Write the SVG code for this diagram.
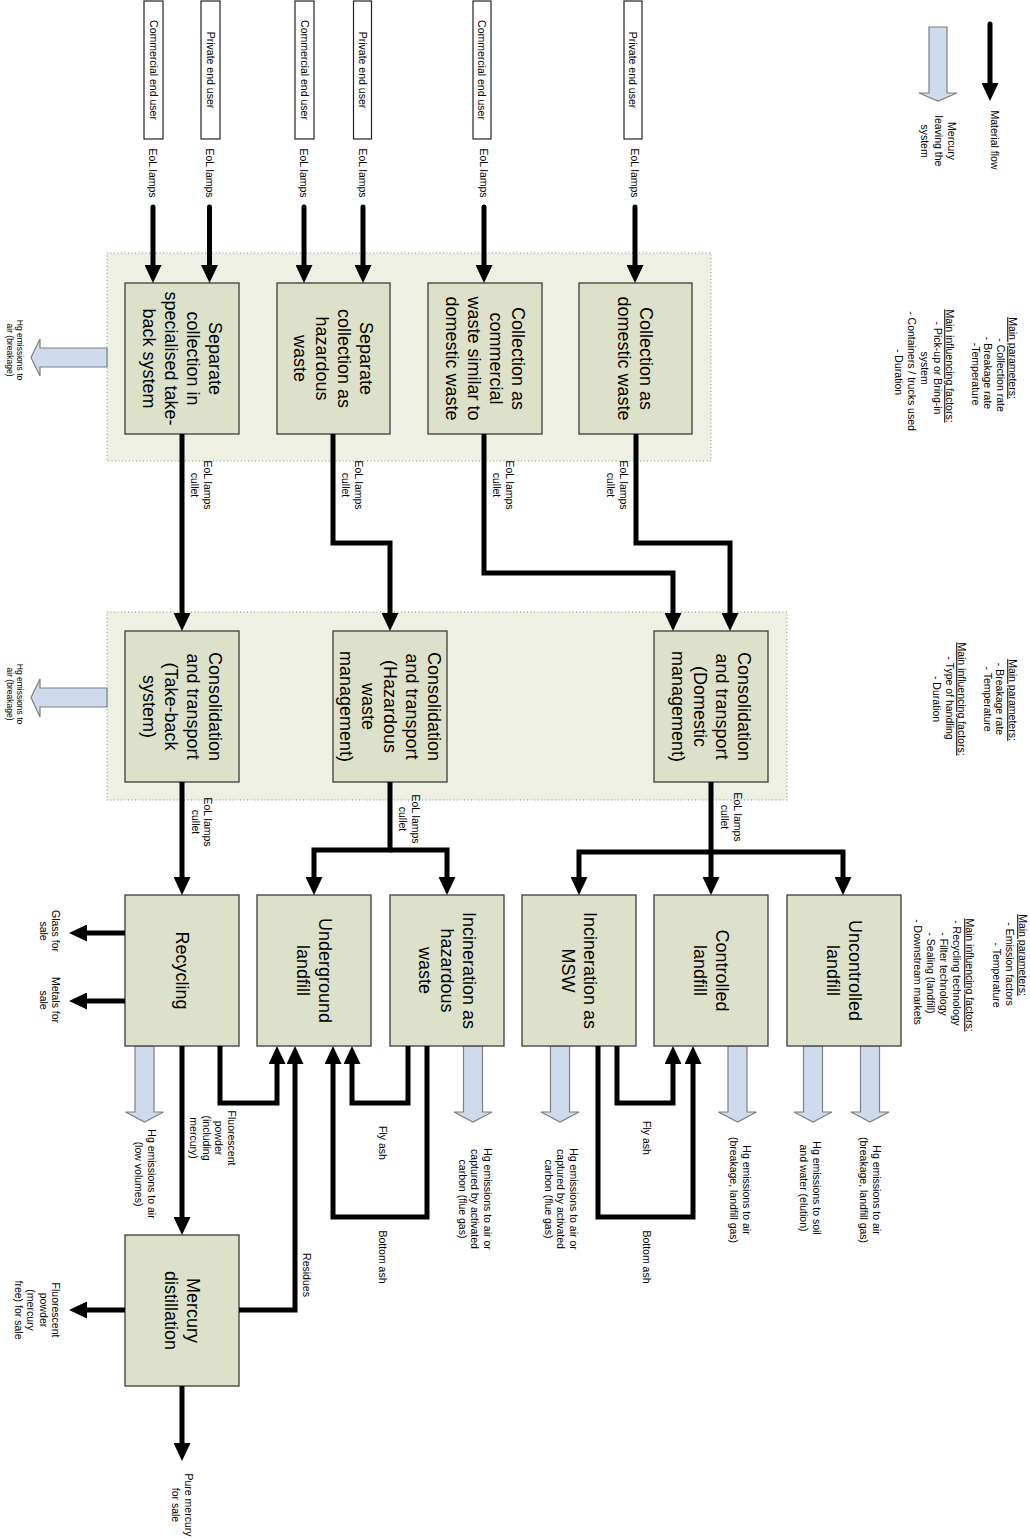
<svg xmlns="http://www.w3.org/2000/svg" width="1030" height="1540" viewBox="0 0 1030 1540">
<style>
.box{fill:#dde1ca;stroke:#3c3c3c;stroke-width:1.3}
.src{fill:#fff;stroke:#222;stroke-width:1.2}
.grp{fill:#eff0e4;stroke:#8a8a8a;stroke-width:1;stroke-dasharray:1 2.5}
.flow{fill:none;stroke:#000;stroke-width:5;marker-end:url(#ah)}
.rc{stroke-linecap:round}
.em{fill:#cfdbed;stroke:#7f7f7f;stroke-width:1.2}
text{font-family:"Liberation Sans",Arial,sans-serif;fill:#000}
.t18{font-size:18px;text-anchor:middle}
.t10{font-size:10.5px;text-anchor:middle}
.t8{font-size:8.5px;text-anchor:middle}
.u{text-decoration:underline}
</style>
<defs>
<marker id="ah" markerUnits="userSpaceOnUse" markerWidth="18" markerHeight="17" refX="0" refY="8.5" orient="auto" viewBox="0 0 18 17"><path d="M0,0 L18,8.5 L0,17 z" fill="#000"/></marker>
</defs>
<rect width="1030" height="1540" fill="#fff"/>

<g id="containers">
<rect class="grp" x="107" y="253" width="604" height="208"/>
<rect class="grp" x="107" y="612" width="680" height="188"/>
</g>

<g id="emissions">
<polygon class="em" points="107,348 40,348 40,339 31,357.5 40,376 40,367 107,367"/>
<polygon class="em" points="107,688 40,688 40,679 31,697.5 40,717 40,707 107,707"/>
<polygon class="em" points="135,1046 154,1046 154,1112 163.5,1112 144.5,1122 125.5,1112 135,1112"/>
<polygon class="em" points="463.5,1046 482.5,1046 482.5,1112 492,1112 473,1122 454,1112 463.5,1112"/>
<polygon class="em" points="550.5,1046 569.5,1046 569.5,1112 579,1112 560,1122 541,1112 550.5,1112"/>
<polygon class="em" points="728,1046 747,1046 747,1112 756.5,1112 737.5,1122 718.5,1112 728,1112"/>
<polygon class="em" points="803.5,1046 822.5,1046 822.5,1112 832,1112 813,1122 794,1112 803.5,1112"/>
<polygon class="em" points="860.5,1046 879.5,1046 879.5,1112 889,1112 870,1122 851,1112 860.5,1112"/>
<text class="t8" transform="translate(15,350) rotate(90)"><tspan x="0" y="-1.75">Hg emissions to</tspan><tspan x="0" y="7.75">air (breakage)</tspan></text>
<text class="t8" transform="translate(15,694) rotate(90)"><tspan x="0" y="-1.75">Hg emissions to</tspan><tspan x="0" y="7.75">air (breakage)</tspan></text>
<text class="t10" transform="translate(145,1174) rotate(90)"><tspan x="0" y="-2.55">Hg emissions to air</tspan><tspan x="0" y="9.95">(low volumes)</tspan></text>
<text class="t10" transform="translate(475,1199) rotate(90)"><tspan x="0" y="-8.8">Hg emissions to air or</tspan><tspan x="0" y="3.7">captured by activated</tspan><tspan x="0" y="16.2">carbon  (flue gas)</tspan></text>
<text class="t10" transform="translate(561,1199) rotate(90)"><tspan x="0" y="-8.8">Hg emissions to air or</tspan><tspan x="0" y="3.7">captured by activated</tspan><tspan x="0" y="16.2">carbon  (flue gas)</tspan></text>
<text class="t10" transform="translate(740,1190) rotate(90)"><tspan x="0" y="-2.55">Hg emissions to air</tspan><tspan x="0" y="9.95">(breakage, landfill gas)</tspan></text>
<text class="t10" transform="translate(810,1188) rotate(90)"><tspan x="0" y="-2.55">Hg emissions to soil</tspan><tspan x="0" y="9.95">and water (elution)</tspan></text>
<text class="t10" transform="translate(870,1190) rotate(90)"><tspan x="0" y="-2.55">Hg emissions to air</tspan><tspan x="0" y="9.95">(breakage, landfill gas)</tspan></text>
</g>

<g id="src1"><rect class="src" x="144" y="1" width="19" height="138"/><text class="t10" transform="translate(153.5,70) rotate(90)" y="3.7">Commercial end user</text></g>
<g id="src2"><rect class="src" x="201" y="1" width="19" height="138"/><text class="t10" transform="translate(210.5,70) rotate(90)" y="3.7">Private end user</text></g>
<g id="src3"><rect class="src" x="295" y="1" width="19" height="138"/><text class="t10" transform="translate(304.5,70) rotate(90)" y="3.7">Commercial end user</text></g>
<g id="src4"><rect class="src" x="353.5" y="1" width="18" height="138"/><text class="t10" transform="translate(362.5,70) rotate(90)" y="3.7">Private end user</text></g>
<g id="src5"><rect class="src" x="473" y="1" width="18" height="138"/><text class="t10" transform="translate(482,70) rotate(90)" y="3.7">Commercial end user</text></g>
<g id="src6"><rect class="src" x="624" y="1" width="18" height="138"/><text class="t10" transform="translate(633,70) rotate(90)" y="3.7">Private end user</text></g>

<g id="col1"><rect class="box" x="125" y="283" width="114" height="151"/><text class="t18" transform="translate(182,358.5) rotate(90)"><tspan x="0" y="-26.7">Separate</tspan><tspan x="0" y="-4.7">collection in</tspan><tspan x="0" y="17.3">specialised take-</tspan><tspan x="0" y="39.3">back system</tspan></text></g>
<g id="col2"><rect class="box" x="277" y="283" width="113" height="151"/><text class="t18" transform="translate(333.5,358.5) rotate(90)"><tspan x="0" y="-26.7">Separate</tspan><tspan x="0" y="-4.7">collection as</tspan><tspan x="0" y="17.3">hazardous</tspan><tspan x="0" y="39.3">waste</tspan></text></g>
<g id="col3"><rect class="box" x="428" y="283" width="114" height="151"/><text class="t18" transform="translate(485,358.5) rotate(90)"><tspan x="0" y="-26.7">Collection as</tspan><tspan x="0" y="-4.7">commercial</tspan><tspan x="0" y="17.3">waste similar to</tspan><tspan x="0" y="39.3">domestic waste</tspan></text></g>
<g id="col4"><rect class="box" x="579" y="283" width="113" height="151"/><text class="t18" transform="translate(635.5,358.5) rotate(90)"><tspan x="0" y="-4.7">Collection as</tspan><tspan x="0" y="17.3">domestic waste</tspan></text></g>

<g id="con1"><rect class="box" x="125" y="631" width="114" height="151"/><text class="t18" transform="translate(182,706.5) rotate(90)"><tspan x="0" y="-26.7">Consolidation</tspan><tspan x="0" y="-4.7">and transport</tspan><tspan x="0" y="17.3">(Take-back</tspan><tspan x="0" y="39.3">system)</tspan></text></g>
<g id="con2"><rect class="box" x="333" y="631" width="114" height="151"/><text class="t18" transform="translate(390,706.5) rotate(90)"><tspan x="0" y="-37.7">Consolidation</tspan><tspan x="0" y="-15.7">and transport</tspan><tspan x="0" y="6.3">(Hazardous</tspan><tspan x="0" y="28.3">waste</tspan><tspan x="0" y="50.3">management)</tspan></text></g>
<g id="con3"><rect class="box" x="654" y="631" width="114" height="151"/><text class="t18" transform="translate(711,706.5) rotate(90)"><tspan x="0" y="-26.7">Consolidation</tspan><tspan x="0" y="-4.7">and transport</tspan><tspan x="0" y="17.3">(Domestic</tspan><tspan x="0" y="39.3">management)</tspan></text></g>

<g id="recycling"><rect class="box" x="125" y="895" width="114" height="151"/><text class="t18" transform="translate(182,970.5) rotate(90)" y="6.3">Recycling</text></g>
<g id="underground"><rect class="box" x="257" y="895" width="114" height="151"/><text class="t18" transform="translate(314,970.5) rotate(90)"><tspan x="0" y="-4.7">Underground</tspan><tspan x="0" y="17.3">landfill</tspan></text></g>
<g id="inc_haz"><rect class="box" x="390" y="895" width="114" height="151"/><text class="t18" transform="translate(447,970.5) rotate(90)"><tspan x="0" y="-15.7">Incineration as</tspan><tspan x="0" y="6.3">hazardous</tspan><tspan x="0" y="28.3">waste</tspan></text></g>
<g id="inc_msw"><rect class="box" x="522" y="895" width="114" height="151"/><text class="t18" transform="translate(579,970.5) rotate(90)"><tspan x="0" y="-4.7">Incineration as</tspan><tspan x="0" y="17.3">MSW</tspan></text></g>
<g id="controlled"><rect class="box" x="654" y="895" width="114" height="151"/><text class="t18" transform="translate(711,970.5) rotate(90)"><tspan x="0" y="-4.7">Controlled</tspan><tspan x="0" y="17.3">landfill</tspan></text></g>
<g id="uncontrolled"><rect class="box" x="787" y="895" width="114" height="151"/><text class="t18" transform="translate(844,970.5) rotate(90)"><tspan x="0" y="-4.7">Uncontrolled</tspan><tspan x="0" y="17.3">landfill</tspan></text></g>
<g id="distillation"><rect class="box" x="125" y="1235" width="114" height="151"/><text class="t18" transform="translate(182,1310.5) rotate(90)"><tspan x="0" y="-4.7">Mercury</tspan><tspan x="0" y="17.3">distillation</tspan></text></g>

<g id="connectors">
<path class="flow rc" d="M153,207 V265"/>
<path class="flow rc" d="M209.5,207 V265"/>
<path class="flow rc" d="M304,207 V265"/>
<path class="flow rc" d="M363,207 V265"/>
<path class="flow rc" d="M484,207 V265"/>
<path class="flow rc" d="M635,207 V265"/>
<path class="flow" d="M182,434 V613"/>
<path class="flow" d="M333,434 V543 H390 V613"/>
<path class="flow" d="M484,434 V573 H673 V613"/>
<path class="flow" d="M636,434 V543 H730 V613"/>
<path class="flow" d="M182,782 V877"/>
<path class="flow" d="M390,782 V850 H314 V877"/>
<path class="flow" d="M390,850 H447 V877"/>
<path class="flow" d="M711,782 V852 H579 V877"/>
<path class="flow" d="M711,852 V877"/>
<path class="flow" d="M711,852 H843 V877"/>
<path class="flow" d="M182,1046 V1217"/>
<path class="flow" d="M220,1046 V1103 H277 V1064"/>
<path class="flow" d="M239,1310 H295 V1064"/>
<path class="flow" d="M408,1046 V1103 H352 V1064"/>
<path class="flow" d="M427,1046 V1217 H333 V1064"/>
<path class="flow" d="M617,1046 V1103 H673 V1064"/>
<path class="flow" d="M598,1046 V1217 H693 V1064"/>
<path class="flow" d="M125,933 H87"/>
<path class="flow" d="M125,1001 H87"/>
<path class="flow" d="M125,1310 H87"/>
<path class="flow" d="M182,1386 V1443"/>
<text class="t10" transform="translate(153,173) rotate(90)" y="3.7">EoL lamps</text>
<text class="t10" transform="translate(209.5,173) rotate(90)" y="3.7">EoL lamps</text>
<text class="t10" transform="translate(304,173) rotate(90)" y="3.7">EoL lamps</text>
<text class="t10" transform="translate(363,173) rotate(90)" y="3.7">EoL lamps</text>
<text class="t10" transform="translate(484,173) rotate(90)" y="3.7">EoL lamps</text>
<text class="t10" transform="translate(635,173) rotate(90)" y="3.7">EoL lamps</text>
<text class="t10" transform="translate(201,485) rotate(90)"><tspan x="0" y="-2.55">EoL lamps</tspan><tspan x="0" y="9.95">cullet</tspan></text>
<text class="t10" transform="translate(352,485) rotate(90)"><tspan x="0" y="-2.55">EoL lamps</tspan><tspan x="0" y="9.95">cullet</tspan></text>
<text class="t10" transform="translate(503,485) rotate(90)"><tspan x="0" y="-2.55">EoL lamps</tspan><tspan x="0" y="9.95">cullet</tspan></text>
<text class="t10" transform="translate(617,485) rotate(90)"><tspan x="0" y="-2.55">EoL lamps</tspan><tspan x="0" y="9.95">cullet</tspan></text>
<text class="t10" transform="translate(201.5,822) rotate(90)"><tspan x="0" y="-2.55">EoL lamps</tspan><tspan x="0" y="9.95">cullet</tspan></text>
<text class="t10" transform="translate(409,819) rotate(90)"><tspan x="0" y="-2.55">EoL lamps</tspan><tspan x="0" y="9.95">cullet</tspan></text>
<text class="t10" transform="translate(731,817) rotate(90)"><tspan x="0" y="-2.55">EoL lamps</tspan><tspan x="0" y="9.95">cullet</tspan></text>
<text class="t10" transform="translate(49.5,931) rotate(90)"><tspan x="0" y="-2.55">Glass for</tspan><tspan x="0" y="9.95">sale</tspan></text>
<text class="t10" transform="translate(49.5,1000) rotate(90)"><tspan x="0" y="-2.55">Metals for</tspan><tspan x="0" y="9.95">sale</tspan></text>
<text class="t10" transform="translate(212.5,1138) rotate(90)"><tspan x="0" y="-15.05">Fluorescent</tspan><tspan x="0" y="-2.55">powder</tspan><tspan x="0" y="9.95">(including</tspan><tspan x="0" y="22.45">mercury)</tspan></text>
<text class="t10" transform="translate(383,1143) rotate(90)" y="3.7">Fly ash</text>
<text class="t10" transform="translate(383,1257) rotate(90)" y="3.7">Bottom ash</text>
<text class="t10" transform="translate(307,1275) rotate(90)" y="3.7">Residues</text>
<text class="t10" transform="translate(647,1138) rotate(90)" y="3.7">Fly ash</text>
<text class="t10" transform="translate(647,1257) rotate(90)" y="3.7">Bottom ash</text>
<text class="t10" transform="translate(37,1310) rotate(90)"><tspan x="0" y="-15.05">Fluorescent</tspan><tspan x="0" y="-2.55">powder</tspan><tspan x="0" y="9.95">(mercury</tspan><tspan x="0" y="22.45">free) for sale</tspan></text>
<text class="t10" transform="translate(182,1505) rotate(90)"><tspan x="0" y="-2.55">Pure mercury</tspan><tspan x="0" y="9.95">for sale</tspan></text>
</g>

<g id="legend">
<path class="flow rc" d="M990,24 V83"/>
<polygon class="em" points="929,27 947,27 947,93 957,93 938,101 919,93 929,93"/>
<text class="t10" transform="translate(995,140) rotate(90)" y="3.7">Material flow</text>
<text class="t10" transform="translate(938.5,141) rotate(90)"><tspan x="0" y="-9.8">Mercury</tspan><tspan x="0" y="3.7">leaving the</tspan><tspan x="0" y="17.2">system</tspan></text>
</g>

<g id="params_collection">
<text class="t10 u" transform="translate(1013,358) rotate(90)" y="3.7">Main parameters:</text>
<text class="t10" transform="translate(1001,375) rotate(90)" y="3.7">- Collection rate</text>
<text class="t10" transform="translate(988,373) rotate(90)" y="3.7">- Breakage rate</text>
<text class="t10" transform="translate(976,374) rotate(90)" y="3.7">-Temperature</text>
<text class="t10 u" transform="translate(950,366) rotate(90)" y="3.7">Main influencing factors:</text>
<text class="t10" transform="translate(938,368) rotate(90)" y="3.7">- Pick-up or Bring-in</text>
<text class="t10" transform="translate(925,368) rotate(90)" y="3.7">system</text>
<text class="t10" transform="translate(912,371) rotate(90)" y="3.7">- Containers / trucks used</text>
<text class="t10" transform="translate(899,372) rotate(90)" y="3.7">- Duration</text>
</g>
<g id="params_consolidation">
<text class="t10 u" transform="translate(1013,700) rotate(90)" y="3.7">Main parameters:</text>
<text class="t10" transform="translate(1000,699) rotate(90)" y="3.7">- Breakage rate</text>
<text class="t10" transform="translate(988,699) rotate(90)" y="3.7">- Temperature</text>
<text class="t10 u" transform="translate(962,699) rotate(90)" y="3.7">Main influencing factors:</text>
<text class="t10" transform="translate(950,698) rotate(90)" y="3.7">- Type of handling</text>
<text class="t10" transform="translate(937,699) rotate(90)" y="3.7">- Duration</text>
</g>
<g id="params_treatment">
<text class="t10 u" transform="translate(1023,955) rotate(90)" y="3.7">Main parameters:</text>
<text class="t10" transform="translate(1010,964) rotate(90)" y="3.7">- Emission factors</text>
<text class="t10" transform="translate(997,975) rotate(90)" y="3.7">- Temperature</text>
<text class="t10 u" transform="translate(970,975) rotate(90)" y="3.7">Main influencing factors:</text>
<text class="t10" transform="translate(957,973) rotate(90)" y="3.7">- Recycling technology</text>
<text class="t10" transform="translate(944,974) rotate(90)" y="3.7">- Filter technology</text>
<text class="t10" transform="translate(931,973) rotate(90)" y="3.7">- Sealing (landfill)</text>
<text class="t10" transform="translate(918,972) rotate(90)" y="3.7">- Downstream markets</text>
</g>
</svg>
